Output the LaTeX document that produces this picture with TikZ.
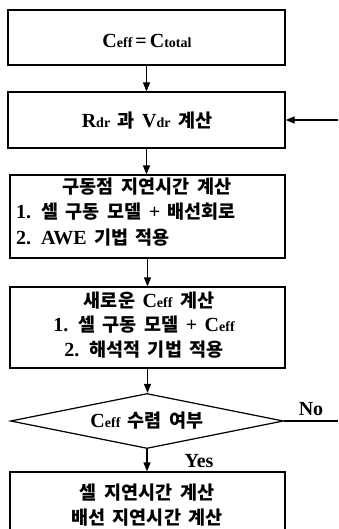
\documentclass[tikz,border=0pt]{standalone}
\usepackage{fontspec}
\setmainfont{Liberation Serif}
\newfontfamily\kr{Noto Sans CJK KR}
\usetikzlibrary{shapes.geometric,arrows.meta}
\newcommand\K[1]{{\kr\bfseries\fontsize{18.5}{22}\selectfont #1}}
\newcommand\sm[1]{{\fontsize{14}{16}\selectfont #1}}
\newcommand\widesp{\spaceskip=7.5pt\relax\xspaceskip=10pt\relax}
\begin{document}
\begin{tikzpicture}[x=1pt,y=-1pt,
  box/.style={draw, line width=1.2pt, inner sep=0pt, rectangle},
  txt/.style={inner sep=0pt, font=\fontsize{20}{22}\selectfont\bfseries, execute at begin node=\widesp},
  arr/.style={line width=1.2pt, -{Triangle[length=9pt,width=7pt]}},
  ln/.style={line width=1.2pt}]
\useasboundingbox (0,0) rectangle (338,529);
% boxes
\node[box, minimum width=277pt, minimum height=55pt] (b1) at (146.5,37.5) {};
\node[box, minimum width=277pt, minimum height=56pt] (b2) at (146.5,120) {};
\node[box, minimum width=275pt, minimum height=83pt] (b3) at (147.5,216.5) {};
\node[box, minimum width=275pt, minimum height=81pt] (b4) at (147.5,327.5) {};
\node[draw, line width=1.2pt, diamond, inner sep=0pt, minimum width=273pt, minimum height=55pt] (d) at (147,421) {};
\node[box, minimum width=275pt, minimum height=76pt] (b5) at (147.5,510) {};
% texts
\node[txt] (t1) at (147,41) {C\sm{eff}\hspace{3pt}=\hspace{3pt}C\sm{total}};
\node[txt] (t2) at (147,121) {R\sm{dr} \K{과} V\sm{dr} \K{계산}};
\node[txt] (t3a) at (147,187) {\K{구동점 지연시간 계산}};
\node[txt, anchor=west] (t3b) at (16,212) {1. \K{셀 구동 모델} + \K{배선회로}};
\node[txt, anchor=west] (t3c) at (16,238) {2. AWE \K{기법 적용}};
\node[txt] (t4a) at (149,301) {\K{새로운} C\sm{eff} \K{계산}};
\node[txt] (t4b) at (144,325) {1. \K{셀 구동 모델} + C\sm{eff}};
\node[txt] (t4c) at (144,350) {2. \K{해석적 기법 적용}};
\node[txt] (td) at (147,421) {C\sm{eff} \K{수렴 여부}};
\node[txt] (t5a) at (147,493) {\K{셀 지연시간 계산}};
\node[txt] (t5b) at (147,518) {\K{배선 지연시간 계산}};
\node[txt] (no) at (311,409) {No};
\node[txt] (yes) at (199,461) {Yes};
% connectors
\coordinate (fb) at (338,120);
\coordinate (noend) at (338,421);
\draw[arr] (b1.south) -- (b2.north);
\draw[arr] (fb) -- (b2.east);
\draw[arr] (b2.south) -- (b2.south |- b3.north);
\draw[arr] (b3.south) -- (b3.south |- b4.north);
\draw[arr] (b4.south) -- (b4.south |- d.north);
\draw[ln] (d.east) -- (noend);
\draw[arr] (d.south) -- (d.south |- b5.north);
\end{tikzpicture}
\end{document}
